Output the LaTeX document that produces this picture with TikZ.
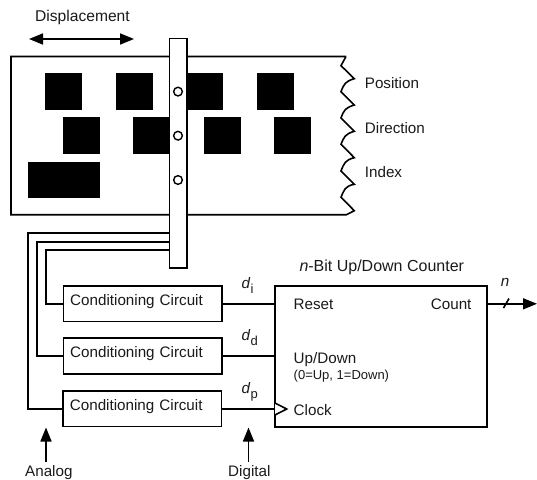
\documentclass[tikz,border=0pt]{standalone}
\usepackage{fontspec}
\setmainfont{Liberation Sans}
\usetikzlibrary{arrows.meta}
\definecolor{ink}{HTML}{1A1A1A}
\tikzset{
  x=1pt,y=-1pt,
  wire/.style={line width=1.6pt,line join=miter},
  lbl/.style={anchor=base west,inner sep=0pt,text=ink,font=\fontsize{15.2}{18}\selectfont},
  small/.style={lbl,font=\fontsize{13}{15}\selectfont},
  sq/.style={fill=black,draw=none},
  condbox/.style={draw,line width=1.6pt,fill=white,minimum width=158.5pt,minimum height=35.5pt,
    inner ysep=0pt,inner xsep=6.5pt,text width=145pt,align=left,text height=11pt,text depth=7.4pt,
    text=ink,font=\fontsize{15.2}{18}\selectfont},
  hole/.style={circle,draw,line width=1.4pt,fill=white,minimum size=8.7pt,inner sep=0pt},
  arr/.style={wire,-{Triangle[length=14pt,width=11pt]}},
  arrb/.style={wire,{Triangle[length=14pt,width=11pt]}-{Triangle[length=14pt,width=11pt]}}
}
\begin{document}
\begin{tikzpicture}
\useasboundingbox (0,0) rectangle (537,479);
% board
\draw[wire,fill=white] (346,56.5) -- (11,56.5) -- (11,214.7) -- (346.5,214.7) -- (354.3,210.7)
  -- (341,197.3) .. controls (344,190) and (345,186) .. (354.3,184.3)
  -- (341,171) .. controls (344,163.5) and (345,160) .. (354.3,157.7)
  -- (341,144.3) .. controls (344,137) and (345,134) .. (354.3,131.3)
  -- (341,118) .. controls (344,110) and (345,108) .. (354.3,105)
  -- (341,91.7) .. controls (344,84) and (345,81.5) .. (354.3,78.7)
  -- (341,65.7) -- (346,56.5);
% squares
\foreach \x/\w in {45/37,116/36.5,187/36,257/36.5}
  \fill[sq] (\x,73) rectangle (\x+\w,110);
\foreach \x/\w in {63/36.5,133/37,204/36.5,274/37}
  \fill[sq] (\x,117) rectangle (\x+\w,154);
\fill[sq] (27.5,161.5) rectangle (99.5,198);
% strip
\node[draw,line width=1.6pt,fill=white,minimum width=17.5pt,minimum height=229.5pt,inner sep=0pt] (strip) at (178.2,153.2) {};
\node[hole] (h1) at (178,91.6) {};
\node[hole] (h2) at (178,135.7) {};
\node[hole] (h3) at (178,180) {};
% displacement
\node[lbl,font=\fontsize{15.6}{18}\selectfont] (disp) at (35,21) {Displacement};
\coordinate (da) at (29,39);
\coordinate (db) at (134,39);
\draw[arrb] (da) -- (db);
% boxes
\node[condbox] (c1) at (142.7,303.8) {Conditioning Circuit};
\node[condbox] (c2) at (142.7,356) {Conditioning Circuit};
\node[condbox] (c3) at (142.4,408.8) {Conditioning Circuit};
\node[draw,line width=1.6pt,fill=white,minimum width=212pt,minimum height=141pt,inner sep=0pt] (cnt) at (381,356.2) {};
% wires
\coordinate (t1) at (46,250);
\coordinate (t2) at (37,241.7);
\coordinate (t3) at (28,232.7);
\draw[wire] (c1.west) -| (t1) -- (t1 -| strip.west);
\draw[wire] (c2.west) -| (t2) -- (t2 -| strip.west);
\draw[wire] (c3.west) -| (t3) -- (t3 -| strip.west);
\draw[wire] (c1.east) -- (c1.east -| cnt.west);
\draw[wire] (c2.east) -- (c2.east -| cnt.west);
\draw[wire] (c3.east) -- (c3.east -| cnt.west);
% clock triangle
\coordinate (ck) at (275,409);
\draw[wire,fill=white,line join=miter] (275,403) -- (286.7,409) -- (275,415);
% output
\coordinate (o1) at (487,303.8);
\coordinate (o2) at (537,303.8);
\draw[arr] (o1) -- (o2);
\coordinate (tk1) at (503.5,308);
\coordinate (tk2) at (509,298.5);
\draw[wire] (tk1) -- (tk2);
% up arrows
\coordinate (aa) at (46,462);
\coordinate (ab) at (46,427.5);
\coordinate (ga) at (248.5,462);
\coordinate (gb) at (248.5,427.5);
\draw[arr] (aa) -- (ab);
\draw[arr] (ga) -- (gb);
% labels
\node[lbl] (pos) at (364.7,88.7) {Position};
\node[lbl] (dir) at (364.7,133.7) {Direction};
\node[lbl] (idx) at (364.7,177) {Index};
\node[lbl] (an) at (25,476.7) {Analog};
\node[lbl] (dg) at (228,476.7) {Digital};
\node[lbl] (di) at (241.5,288.3) {\textit{d}\raisebox{-5pt}{\fontsize{13}{15}\selectfont i}};
\node[lbl] (dd) at (241.5,340) {\textit{d}\raisebox{-5pt}{\fontsize{13}{15}\selectfont d}};
\node[lbl] (dp) at (241.5,393) {\textit{d}\raisebox{-5pt}{\fontsize{13}{15}\selectfont p}};
\node[lbl,font=\fontsize{16}{18}\selectfont] (title) at (299.3,271) {\textit{n}-Bit Up/Down Counter};
\node[lbl] (rst) at (293.5,309) {Reset};
\node[lbl] (cout) at (430.7,309) {Count};
\node[lbl] (ud) at (293.5,363.3) {Up/Down};
\node[small] (udn) at (293.5,379.3) {(0=Up, 1=Down)};
\node[lbl] (clk) at (293.5,415) {Clock};
\node[lbl] (nn) at (500.7,286) {\textit{n}};
\end{tikzpicture}
\end{document}
